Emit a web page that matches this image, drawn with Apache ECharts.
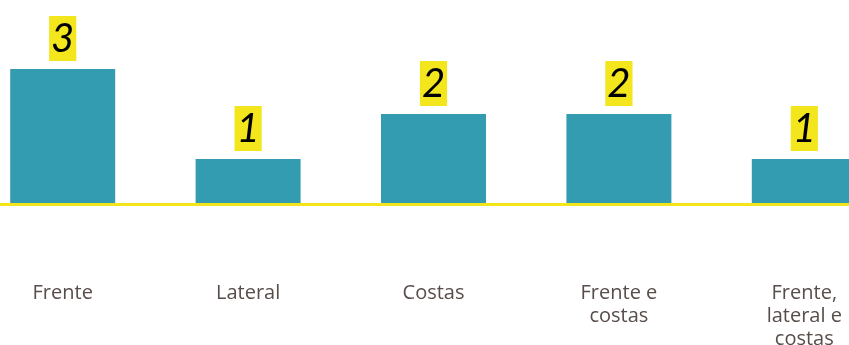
<!DOCTYPE html>
<html>
<head>
<meta charset="utf-8">
<script src="https://cdn.jsdelivr.net/npm/echarts@6/dist/echarts.min.js"></script>
<style>
    html, body { margin: 0; padding: 0; background: #fff; }
    #main { width: 849px; height: 345px; }
</style>
</head>
<body>
<div id="main"></div>
<script>
// dados
var categories = ['Frente', 'Lateral', 'Costas', 'Frente e\ncostas', 'Frente,\nlateral e\ncostas'];
var values = [3, 1, 2, 2, 1];

var myChart = echarts.init(document.getElementById('main'));

var option = {
    animation: false,
    grid: {
        left: -30,
        width: 927,
        top: 69,
        height: 135,
        containLabel: false,
        outerBoundsMode: 'none'
    },
    xAxis: {
        type: 'category',
        data: categories,
        z: 5,
        axisLine: {
            show: true,
            lineStyle: { color: '#f2e51c', width: 3 }
        },
        axisTick: { show: false },
        axisLabel: {
            interval: 0,
            margin: 78,
            color: '#574d4a',
            fontSize: 20,
            lineHeight: 23,
            fontFamily: 'Open Sans'
        }
    },
    yAxis: {
        type: 'value',
        min: 0,
        max: 3,
        show: false,
        splitLine: { show: false }
    },
    series: [
        {
            type: 'bar',
            data: values,
            barWidth: 105,
            itemStyle: { color: '#339cb0' },
            label: {
                show: true,
                position: 'top',
                distance: 8,
                color: '#000',
                fontSize: 40,
                fontStyle: 'italic',
                fontFamily: 'Lato',
                backgroundColor: '#f3e61c',
                padding: [2, 2, 0, 2],
                lineHeight: 43
            }
        }
    ]
};

myChart.setOption(option);
</script>
</body>
</html>
